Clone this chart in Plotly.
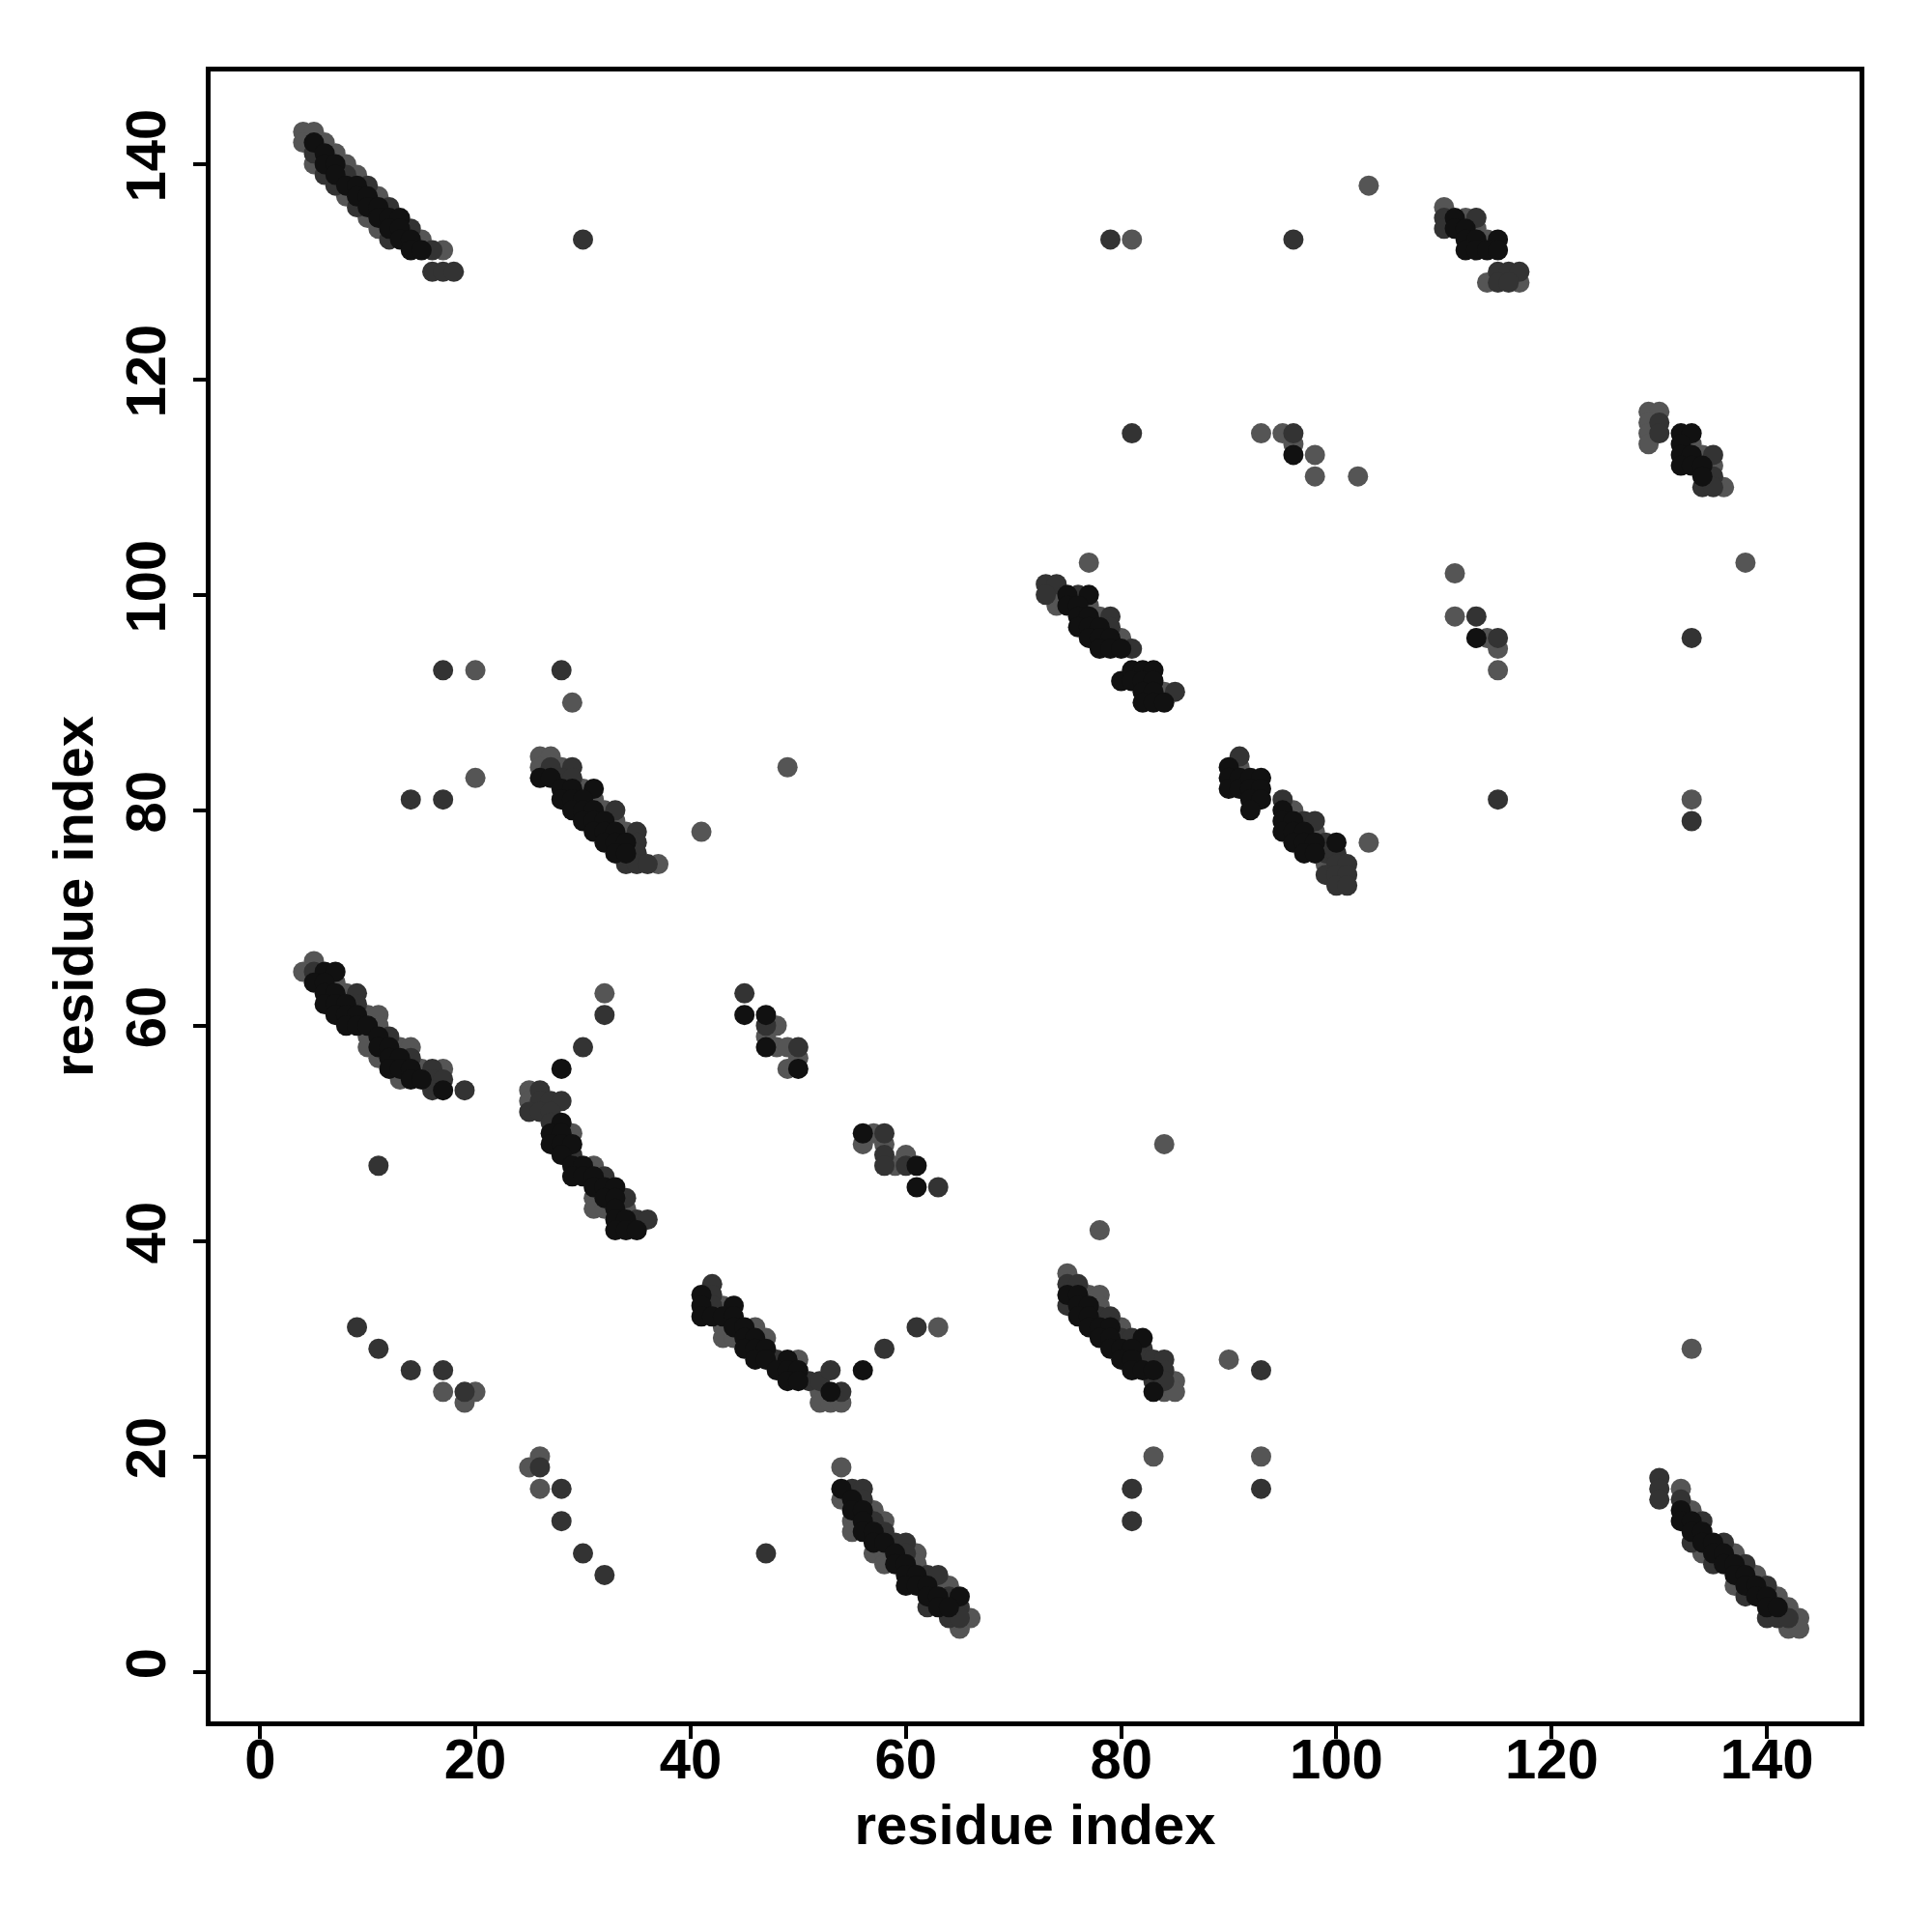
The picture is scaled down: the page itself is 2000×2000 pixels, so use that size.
import plotly.graph_objects as go

# Contact map: (residue i, residue j, score level 0=strong .. 2=weak)
band_top_left = [
    (4,143,2),(5,143,2),
    (4,142,2),(5,142,0),(6,142,2),
    (5,141,1),(6,141,0),(7,141,2),
    (5,140,2),(6,140,0),(7,140,0),(8,140,2),
    (6,139,1),(7,139,0),(8,139,1),(9,139,2),
    (7,138,1),(8,138,0),(9,138,0),(10,138,1),
    (8,137,2),(9,137,0),(10,137,0),(11,137,2),
    (9,136,1),(10,136,0),(11,136,0),(12,136,1),
    (10,135,2),(11,135,0),(12,135,0),(13,135,0),
    (11,134,2),(12,134,0),(13,134,0),(14,134,1),
    (12,133,1),(13,133,0),(14,133,0),(15,133,2),
    (14,132,0),(15,132,0),(16,132,1),(17,132,2),
    (16,130,1),(17,130,1),(18,130,1),
    (30,133,1),
]
cluster_top_right = [
    (110,136,2),(110,135,1),(110,134,1),(111,135,0),(111,134,0),(112,135,2),(113,135,1),
    (112,134,0),(113,134,2),(112,133,0),(113,133,0),(114,133,2),(115,133,0),
    (112,132,0),(113,132,0),(114,132,0),(115,132,0),
    (115,130,1),(116,130,1),(117,130,1),(114,129,2),(115,129,1),(116,129,1),(117,129,2),
    (79,133,1),(81,133,2),(96,133,1),(103,138,2),
]
cluster_upper_right = [
    (81,115,1),(93,115,2),(95,115,2),(96,115,1),(96,114,2),(96,113,0),(98,113,2),(98,111,2),(102,111,2),
    (129,117,2),(130,117,2),(129,116,2),(130,116,1),(129,115,2),(130,115,1),(129,114,2),
    (132,115,0),(133,115,0),(132,114,0),(133,114,2),(132,113,0),(133,113,0),(132,112,0),(133,112,0),
    (134,113,2),(135,113,1),(134,112,0),(135,112,2),(134,111,0),(135,111,1),
    (134,110,1),(135,110,1),(136,110,2),
]
cluster_mid_upper = [
    (77,103,2),
    (73,101,1),(74,101,1),(73,100,1),(74,100,2),(75,100,0),(76,100,1),(77,100,0),
    (74,99,2),(75,99,0),(76,99,0),(77,99,2),
    (76,98,0),(77,98,0),(78,98,2),(79,98,1),
    (76,97,0),(77,97,0),(78,97,0),(79,97,1),
    (77,96,0),(78,96,0),(79,96,0),(80,96,2),
    (78,95,0),(79,95,0),(80,95,0),(81,95,1),
    (80,92,0),(81,93,0),(82,93,0),(83,93,0),(81,92,0),(82,92,0),(83,92,0),
    (82,91,0),(83,91,0),(84,91,2),(85,91,1),
    (82,90,0),(83,90,0),(84,90,0),
]
cluster_mid_lower = [
    (91,85,1),(91,84,2),(90,84,0),(90,83,0),(90,82,0),(91,83,0),(91,82,0),(92,83,0),(93,83,0),
    (92,82,0),(93,82,0),(92,81,0),(93,81,0),(92,80,0),
    (95,81,1),(95,80,0),(96,80,2),(95,79,0),(96,79,0),(97,79,1),(98,79,1),
    (95,78,0),(96,78,0),(97,78,0),(98,78,2),
    (96,77,0),(97,77,0),(98,77,0),(99,77,1),(100,77,0),
    (97,76,0),(98,76,0),(99,76,1),(100,76,1),
    (99,75,2),(100,75,1),(101,75,1),
    (99,74,1),(100,74,1),(101,74,1),
    (100,73,1),(101,73,1),
    (103,77,2),
]
scatter_right = [
    (111,102,2),(111,98,2),(113,98,1),(113,96,0),(114,96,2),(115,96,1),(115,95,2),(115,93,2),
    (133,96,1),(138,103,2),(115,81,1),(133,81,2),(133,79,1),
]
band_left_80 = [
    (17,93,1),(20,93,2),(28,93,1),(29,90,2),(20,83,2),(14,81,1),(17,81,1),(49,84,2),(41,78,2),
    (26,85,2),(27,85,2),
    (26,84,2),(27,84,1),(28,84,2),(29,84,1),
    (26,83,0),(27,83,0),(28,83,1),(29,83,1),
    (28,82,0),(29,82,0),(30,82,2),(31,82,0),
    (28,81,0),(29,81,0),(30,81,0),(31,81,2),
    (29,80,0),(30,80,0),(31,80,0),(32,80,2),(33,80,1),
    (30,79,0),(31,79,0),(32,79,0),(33,79,2),
    (31,78,0),(32,78,0),(33,78,0),(34,78,2),(35,78,1),
    (32,77,0),(33,77,0),(34,77,0),(35,77,1),
    (33,76,0),(34,76,0),(35,76,1),
    (34,75,1),(35,75,1),(36,75,1),(37,75,2),
]
band_left_60 = [
    (5,66,2),
    (4,65,2),(5,65,1),(6,65,0),(7,65,0),
    (5,64,0),(6,64,0),(7,64,2),
    (6,63,0),(7,63,0),(8,63,2),(9,63,1),
    (6,62,0),(7,62,0),(8,62,0),(9,62,1),
    (7,61,0),(8,61,0),(9,61,0),(10,61,2),(11,61,2),
    (8,60,0),(9,60,0),(10,60,0),(11,60,2),
    (10,59,2),(11,59,0),(12,59,1),
    (10,58,2),(11,58,0),(12,58,0),(13,58,2),(14,58,2),
    (11,57,2),(12,57,0),(13,57,0),(14,57,1),
    (12,56,0),(13,56,0),(14,56,0),(15,56,2),(16,56,1),(17,56,2),
    (13,55,2),(14,55,0),(15,55,0),(16,55,1),(17,55,1),
    (16,54,1),(17,54,0),(19,54,1),
    (11,47,1),
]
band_left_45 = [
    (32,63,2),(32,61,1),(30,58,1),(28,56,0),
    (25,54,2),(26,54,1),
    (25,53,2),(26,53,1),(27,53,1),(28,53,1),
    (25,52,1),(26,52,1),(27,52,1),
    (27,51,1),(28,51,0),
    (27,50,0),(28,50,0),(29,50,2),
    (27,49,0),(28,49,0),(29,49,0),
    (28,48,0),(29,48,1),
    (29,47,0),(30,47,0),(31,47,2),
    (29,46,0),(30,46,0),(31,46,0),(32,46,1),
    (31,45,0),(32,45,0),(33,45,0),
    (31,44,2),(32,44,0),(33,44,0),(34,44,1),
    (31,43,2),(32,43,2),(33,43,0),(34,43,2),
    (33,42,0),(34,42,0),(35,42,1),(36,42,1),
    (33,41,0),(34,41,0),(35,41,0),
]
cluster_center = [
    (45,63,1),(45,61,0),(47,61,0),(47,60,1),(48,60,2),(47,59,2),(47,58,0),(48,58,2),(49,58,2),
    (50,58,1),(50,57,2),(49,56,2),(50,56,0),
    (56,50,0),(57,50,2),(58,50,1),(56,49,2),(58,49,2),(58,48,1),(58,47,1),(59,47,2),(60,48,2),
    (60,47,1),(61,47,0),(61,45,0),(63,45,1),
    (84,49,2),
]
band_center_30 = [
    (42,36,1),
    (41,35,0),(42,35,1),
    (41,34,0),(42,34,1),(43,34,2),(44,34,0),
    (41,33,0),(42,33,0),(43,33,0),(44,33,0),
    (43,32,2),(44,32,0),(45,32,0),(46,32,2),
    (43,31,2),(44,31,2),(45,31,0),(46,31,0),(47,31,2),
    (45,30,0),(46,30,0),(47,30,0),
    (46,29,0),(47,29,0),(48,29,1),(49,29,0),(50,29,2),
    (48,28,0),(49,28,0),(50,28,0),
    (49,27,0),(50,27,0),(51,27,1),(52,27,1),
    (53,28,1),
    (52,26,2),(53,26,0),(54,26,1),
    (52,25,2),(53,25,2),(54,25,2),
    (56,28,0),(58,30,1),(61,32,1),(63,32,2),
    (47,11,1),
]
band_center_10 = [
    (54,19,2),
    (54,17,0),(55,17,1),(56,17,1),
    (54,16,2),(55,16,0),(56,16,1),
    (55,15,0),(56,15,0),(57,15,2),
    (55,14,2),(56,14,0),(57,14,1),(58,14,2),
    (55,13,2),(56,13,0),(57,13,0),(58,13,1),
    (57,12,0),(58,12,0),(59,12,1),(60,12,1),
    (57,11,2),(58,11,2),(59,11,0),(60,11,1),(61,11,2),
    (58,10,2),(59,10,0),(60,10,0),(61,10,2),
    (60,9,0),(61,9,0),(62,9,1),(63,9,1),
    (60,8,0),(61,8,0),(62,8,0),(63,8,2),(64,8,2),
    (62,7,0),(63,7,0),(64,7,1),(65,7,0),
    (62,6,1),(63,6,0),(64,6,0),(65,6,1),
    (64,5,1),(65,5,1),(66,5,2),
    (65,4,2),
]
band_right_30 = [
    (78,41,2),
    (75,37,2),
    (75,36,1),(76,36,1),
    (75,35,0),(76,35,0),(77,35,2),(78,35,2),
    (75,34,1),(76,34,0),(77,34,0),(78,34,2),
    (76,33,0),(77,33,0),(78,33,1),(79,33,1),
    (77,32,0),(78,32,0),(79,32,0),(80,32,2),
    (78,31,0),(79,31,0),(80,31,1),(81,31,1),(82,31,0),
    (79,30,0),(80,30,0),(81,30,0),(82,30,1),
    (80,29,0),(81,29,0),(82,29,1),(83,29,1),(84,29,1),
    (81,28,0),(82,28,0),(83,28,0),(84,28,1),
    (83,27,1),(84,27,1),(85,27,2),
    (83,26,0),(84,26,2),(85,26,2),
    (90,29,2),(93,28,1),(83,20,2),(81,17,1),(81,14,1),(93,20,2),(93,17,1),
]
scatter_bottom_left = [
    (9,32,1),(11,30,1),(14,28,1),(17,28,1),(17,26,2),(19,26,1),(20,26,2),(19,25,2),
    (26,20,2),(25,19,2),(26,19,1),(26,17,2),(28,17,1),(28,14,1),(30,11,1),(32,9,1),
]
band_bottom_right = [
    (133,30,2),
    (130,18,1),(130,17,1),(130,16,1),
    (132,17,2),(132,16,1),(132,15,0),(132,14,0),
    (133,15,2),(133,14,0),(133,13,0),(133,12,1),
    (134,14,1),(134,13,0),(134,12,0),(134,11,2),
    (135,12,0),(135,11,0),(135,10,1),
    (136,12,1),(136,11,0),(136,10,0),
    (137,11,2),(137,10,0),(137,9,0),(137,8,2),
    (138,10,1),(138,9,0),(138,8,0),(138,7,1),
    (139,9,2),(139,8,0),(139,7,0),
    (140,8,1),(140,7,0),(140,6,0),(140,5,1),
    (141,7,2),(141,6,0),(141,5,1),
    (142,6,2),(142,5,1),(142,4,2),
    (143,5,2),(143,4,2),
]

tick_vals = [0, 20, 40, 60, 80, 100, 120, 140]
axis_title = "residue index"

clusters = [band_top_left, cluster_top_right, cluster_upper_right, cluster_mid_upper,
            cluster_mid_lower, scatter_right, band_left_80, band_left_60, band_left_45,
            cluster_center, band_center_30, band_center_10, band_right_30,
            scatter_bottom_left, band_bottom_right]
points = [p for c in clusters for p in c]
level_colors = {0: "#111111", 1: "#333333", 2: "#555555"}
# draw weaker contacts first so strong ones sit on top
points_sorted = sorted(points, key=lambda p: -p[2])
xs = [p[0] for p in points_sorted]
ys = [p[1] for p in points_sorted]
cols = [level_colors[p[2]] for p in points_sorted]

fig = go.Figure(go.Scatter(
    x=xs, y=ys, mode="markers",
    marker=dict(size=21, color=cols, line=dict(width=0)),
    hoverinfo="skip", showlegend=False,
))

font_main = dict(family="Liberation Sans, Arial, sans-serif", size=58, color="black", weight="bold")
axis_common = dict(
    tickvals=tick_vals, ticks="outside", ticklen=13, tickwidth=4, tickcolor="black",
    showline=True, linewidth=5, linecolor="black", mirror=True,
    showgrid=False, zeroline=False, tickfont=font_main,
    range=[-4.6, 148.6],
)
fig.update_xaxes(**axis_common, title=dict(text=axis_title, font=font_main, standoff=18),
                 ticklabelstandoff=-29)
fig.update_yaxes(**axis_common, title=dict(text=axis_title, font=font_main, standoff=4),
                 tickangle=-90, ticklabelstandoff=6)
fig.update_layout(
    width=2000, height=2000,
    margin=dict(l=210, r=83, t=66, b=226),
    paper_bgcolor="white", plot_bgcolor="white",
)
fig.write_html("out.html")
